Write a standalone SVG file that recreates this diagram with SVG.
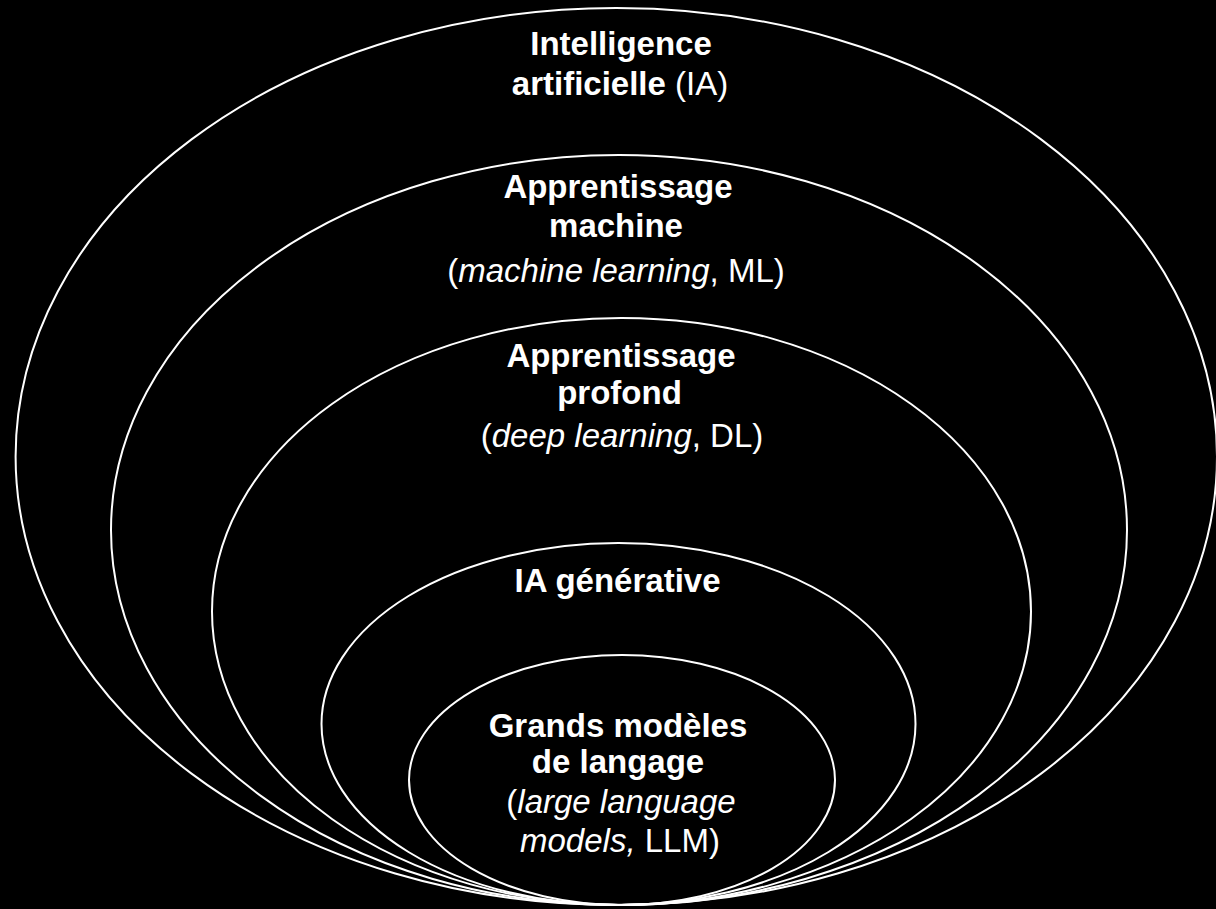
<svg xmlns="http://www.w3.org/2000/svg" width="1216" height="909" viewBox="0 0 1216 909">
<style>
.ring{fill:none;stroke:#fff;stroke-width:2}
text{font-family:"Liberation Sans",Arial,Helvetica,sans-serif;font-size:33px;fill:#fff;text-anchor:middle}
.b{font-weight:bold}
.i{font-style:italic}
</style>
<rect x="0" y="0" width="1216" height="909" fill="#000"/>
<g id="ia">
<ellipse class="ring" cx="616.3" cy="456.5" rx="600.7" ry="448.5"/>
<text x="621" y="55" class="b">Intelligence</text>
<text x="620" y="95"><tspan class="b">artificielle</tspan> (IA)</text>
</g>
<g id="ml">
<ellipse class="ring" cx="619" cy="530" rx="508" ry="375"/>
<text x="618" y="198" class="b">Apprentissage</text>
<text x="616" y="237" class="b">machine</text>
<text x="616" y="282">(<tspan class="i">machine learning</tspan>, ML)</text>
</g>
<g id="dl">
<ellipse class="ring" cx="621.5" cy="611.5" rx="409.5" ry="293.5"/>
<text x="621" y="367" class="b">Apprentissage</text>
<text x="619.5" y="404" class="b">profond</text>
<text x="622" y="447">(<tspan class="i">deep learning</tspan>, DL)</text>
</g>
<g id="genai">
<ellipse class="ring" cx="618.5" cy="724" rx="297" ry="181"/>
<text x="617.5" y="592" class="b">IA générative</text>
</g>
<g id="llm">
<ellipse class="ring" cx="622" cy="780" rx="213" ry="125"/>
<text x="618" y="737" class="b">Grands modèles</text>
<text x="618" y="773" class="b">de langage</text>
<text x="621" y="813">(<tspan class="i">large language</tspan></text>
<text x="620" y="852"><tspan class="i">models,</tspan> LLM)</text>
</g>
</svg>
